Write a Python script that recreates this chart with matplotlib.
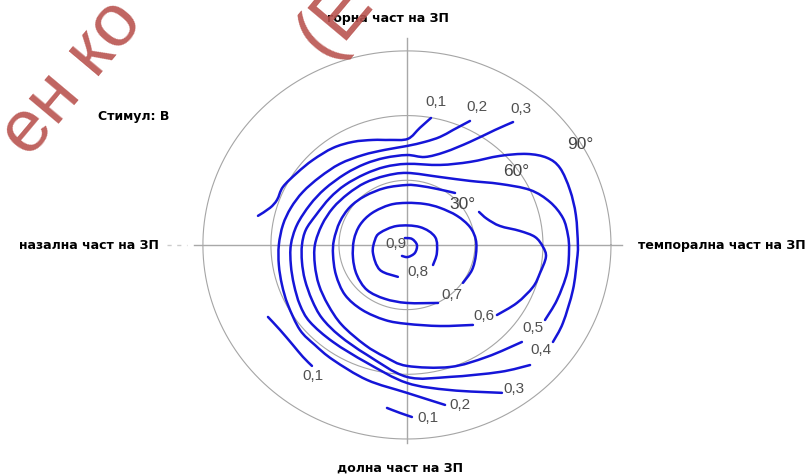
"""Visual field isopters (stimulus B) drawn on a perimetry chart."""

import numpy as np
import matplotlib.pyplot as plt
from matplotlib.path import Path
from matplotlib.patches import PathPatch

# isopter traces in degrees of visual field (x: temporal +, y: superior +)
iso_01a = [(-65.7, 13.5), (-60.4, 17.2), (-57.3, 20.9), (-54.7, 26.9), (-48.5, 33.4),
           (-41.5, 39.4), (-32.6, 45.0), (-23.8, 47.8), (-15.0, 48.7), (-7.5, 48.7),
           (0.4, 49.2), (5.7, 54.3), (10.6, 58.9)]
iso_01b = [(-61.3, -33.4), (-56.0, -39.4), (-50.3, -46.4), (-45.9, -51.9), (-41.9, -56.1)]
iso_01c = [(-8.8, -75.6), (-3.1, -77.9), (2.2, -79.8)]
iso_02 = [(27.8, 57.5), (20.3, 53.3), (14.6, 50.1), (7.9, 47.8), (0.0, 45.9),
          (-9.7, 44.1), (-19.4, 41.7), (-29.6, 37.6), (-38.4, 31.5), (-45.9, 24.6),
          (-51.2, 17.2), (-54.7, 9.3), (-56.5, 0.0), (-56.5, -9.3), (-55.1, -18.6),
          (-52.5, -27.8), (-47.2, -39.4), (-40.6, -46.4), (-32.6, -53.3), (-17.6, -62.6),
          (0.0, -68.6), (16.8, -74.2)]
iso_03 = [(46.8, 57.0), (38.8, 53.3), (27.8, 47.8), (16.8, 43.1), (7.9, 40.8),
          (0.0, 41.7), (-9.7, 40.4), (-18.5, 37.6), (-27.3, 32.9), (-36.2, 26.0),
          (-42.8, 18.6), (-48.5, 9.3), (-51.2, 0.0), (-51.2, -9.3), (-49.8, -18.6),
          (-47.2, -27.8), (-42.8, -35.7), (-32.6, -45.0), (-17.6, -54.7), (0.0, -64.0),
          (19.0, -67.3), (41.9, -68.6)]
iso_04 = [(64.4, -45.0), (68.8, -36.2), (73.2, -20.9), (75.0, -7.0), (75.4, 0.0),
          (74.5, 13.9), (71.9, 25.5), (67.5, 35.7), (61.8, 40.4), (52.9, 42.2),
          (41.0, 41.3), (27.8, 38.5), (14.6, 37.1), (0.0, 37.6), (-9.7, 36.2),
          (-18.5, 32.9), (-27.3, 27.8), (-34.0, 21.8), (-40.1, 13.9), (-44.6, 7.0),
          (-46.3, 0.0), (-46.3, -7.9), (-45.0, -16.2), (-41.9, -25.5), (-37.5, -33.9),
          (-29.6, -42.2), (-17.6, -51.0), (0.0, -61.2), (19.0, -61.2), (41.0, -58.9),
          (54.3, -55.7)]
iso_05 = [(60.9, -34.8), (66.2, -25.5), (70.6, -13.0), (71.5, -2.3), (71.0, 4.6),
          (68.8, 12.5), (63.1, 19.9), (54.3, 25.5), (41.0, 28.3), (27.8, 29.7),
          (14.6, 31.5), (0.0, 33.4), (-9.7, 32.0), (-18.5, 28.8), (-26.0, 23.7),
          (-32.6, 17.2), (-37.5, 9.3), (-40.6, 0.0), (-40.6, -9.3), (-38.8, -18.6),
          (-34.8, -27.8), (-28.7, -37.1), (-18.5, -46.4), (-9.7, -51.9), (0.0, -56.1),
          (19.0, -56.6), (35.3, -51.9), (50.7, -45.0)]
iso_06a = [(21.2, 24.1), (13.2, 26.0), (5.7, 27.4), (0.0, 27.8), (-9.7, 26.4),
           (-18.5, 22.7), (-25.1, 17.6), (-29.6, 10.7), (-32.2, 2.3), (-32.6, -4.6),
           (-31.3, -13.9), (-27.3, -23.2), (-19.8, -30.1), (-9.7, -34.8), (0.0, -36.6),
           (14.6, -37.6), (29.1, -37.1)]
iso_06b = [(31.8, 15.3), (35.3, 12.1), (41.0, 8.8), (49.8, 6.5), (56.5, 3.7),
           (60.0, -0.9), (61.3, -5.6), (58.7, -13.0), (55.6, -19.5), (48.5, -26.9),
           (39.7, -32.5)]
iso_07 = [(13.7, -26.9), (0.0, -26.9), (-9.7, -25.0), (-17.6, -20.9), (-22.1, -13.9),
          (-23.8, -6.0), (-23.4, 2.3), (-20.7, 9.3), (-15.4, 14.8), (-7.5, 18.6),
          (0.0, 19.5), (7.9, 19.0), (14.6, 17.2), (22.1, 13.5), (27.8, 8.3),
          (30.4, 2.3), (30.4, -4.6), (28.7, -11.6), (24.7, -17.6)]
iso_08 = [(-4.0, -14.8), (-11.9, -11.6), (-15.0, -3.7), (-14.1, 2.3), (-11.9, 5.6),
          (-4.4, 8.8), (5.7, 8.3), (12.4, 3.7), (13.2, -3.7), (11.5, -9.3)]
iso_09 = [(-0.9, 3.2), (2.2, 2.8), (4.4, 0.0), (3.5, -3.7), (0.4, -5.6), (-2.2, -5.1)]

iso_label_text = ["0,1", "0,2", "0,3", "0,9", "0,8", "0,7", "0,6", "0,5", "0,4",
                  "0,3", "0,2", "0,1", "0,1"]
iso_label_x = [12.8, 30.9, 50.3, -4.9, 4.9, 19.9, 34.0, 55.6, 59.1, 47.2, 23.4, 9.3, -41.5]
iso_label_y = [66.3, 64.0, 63.1, 0.5, -12.5, -23.2, -32.9, -38.5, -48.7, -66.8, -74.2, -80.2, -60.8]

ring_radii = [30, 60, 90]
ring_label_x = [24.3, 48.1, 76.3]
ring_label_y = [18.6, 33.9, 46.4]


def smooth_path(pts):
    """Catmull-Rom style cubic Bezier path through the traced points."""
    p = np.asarray(pts, dtype=float)
    ext = np.vstack([p[0], p, p[-1]])
    verts = [p[0]]
    codes = [Path.MOVETO]
    for i in range(1, len(ext) - 2):
        c1 = ext[i] + (ext[i + 1] - ext[i - 1]) / 6.0
        c2 = ext[i + 1] - (ext[i + 2] - ext[i]) / 6.0
        verts += [c1, c2, ext[i + 1]]
        codes += [Path.CURVE4] * 3
    return Path(verts, codes)


fig = plt.figure(figsize=(8.08, 4.75), dpi=100)
ax = fig.add_axes([0, 0, 1, 1])
ax.set_xlim(-179.5, 176.9)
ax.set_ylim(-106.7, 113.6)
ax.axis("off")

# grid: rings and cross hairs
theta = np.linspace(0, 2 * np.pi, 400)
for r in ring_radii:
    ax.plot(r * np.cos(theta), r * np.sin(theta), color="#a5a5a5", lw=0.8, zorder=1)
ax.plot([-94, 95], [0, 0], color="#a8a8a8", lw=1.0, zorder=1)
ax.plot([-106, -97], [0, 0], color="#cccccc", lw=1.0, ls=(0, (3, 4)), zorder=1)
ax.plot([0, 0], [-92, 96], color="#a8a8a8", lw=1.0, zorder=1)

for r, lx, ly in zip(ring_radii, ring_label_x, ring_label_y):
    ax.text(lx, ly, f"{r}°", fontsize=12.5, color="#444444", ha="center", va="center",
            family="Liberation Sans", zorder=3)

# isopters
segments = [iso_01a, iso_01b, iso_01c, iso_02, iso_03, iso_04, iso_05,
            iso_06a, iso_06b, iso_07, iso_08, iso_09]
for seg in segments:
    ax.add_patch(PathPatch(smooth_path(seg), facecolor="none", edgecolor="#1515d8",
                           lw=1.8, capstyle="round", joinstyle="round", zorder=2))

for t, lx, ly in zip(iso_label_text, iso_label_x, iso_label_y):
    ax.text(lx, ly, t, fontsize=11, color="#505050", ha="center", va="center",
            family="Liberation Sans", zorder=3)

# side captions
cap = dict(fontsize=9, fontweight="bold", color="black", family="DejaVu Sans")
fig.text(0.480, 0.962, "горна част на ЗП", ha="center", va="center", **cap)
fig.text(0.495, 0.015, "долна част на ЗП", ha="center", va="center", **cap)
fig.text(0.110, 0.484, "назална част на ЗП", ha="center", va="center", **cap)
fig.text(0.789, 0.484, "темпорална част на ЗП", ha="left", va="center", **cap)
fig.text(0.165, 0.754, "Стимул: В", ha="center", va="center", **cap)

# watermark fragments
wm = dict(fontsize=54, color="#b9534f", alpha=0.9, rotation=50, rotation_mode="anchor",
          ha="center", va="center", family="Liberation Sans")
fig.text(0.089, 0.834, "ен ко", **wm)
fig.text(0.415, 0.960, "(E", **wm)

fig.savefig("out.png", dpi=100)
